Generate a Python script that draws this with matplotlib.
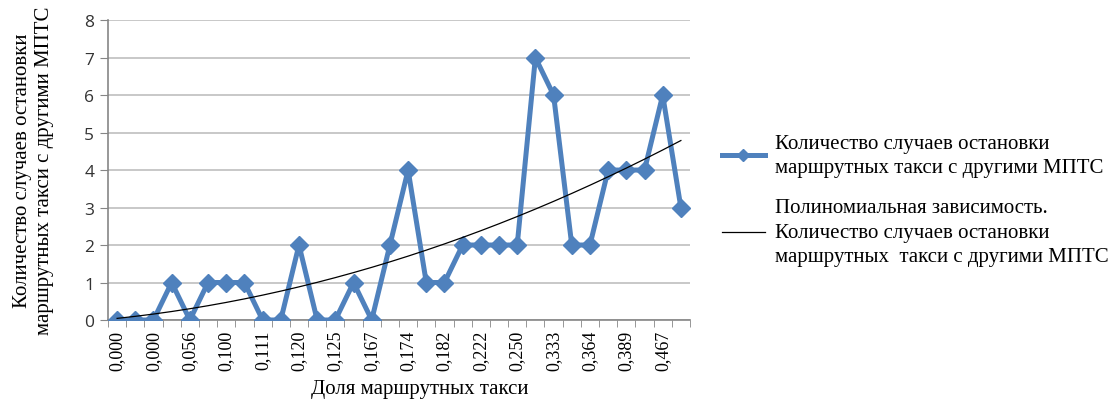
import numpy as np
import matplotlib
matplotlib.use('Agg')
import matplotlib.pyplot as plt

# values (32 categories)
counts = [0, 0, 0, 1, 0, 1, 1, 1, 0, 0, 2, 0, 0, 1, 0, 2,
          4, 1, 1, 2, 2, 2, 2, 7, 6, 2, 2, 4, 4, 4, 6, 3]
# only every other category carries a label
tick_labels = ['0,000', '0,000', '0,056', '0,100', '0,111', '0,120', '0,125', '0,167',
               '0,174', '0,182', '0,222', '0,250', '0,333', '0,364', '0,389', '0,467']

series_name = 'Количество случаев остановки\nмаршрутных такси с другими МПТС'
trend_name = ('Полиномиальная зависимость.\nКоличество случаев остановки\n'
              'маршрутных  такси с другими МПТС')

x = np.arange(len(counts))
# polynomial trend line (2nd order, as in Excel)
coef = np.polyfit(x + 1, counts, 2)
trend = np.polyval(coef, x + 1)

serif = 'Liberation Serif'
fig = plt.figure(figsize=(11.17, 4.02), dpi=100)
ax = fig.add_axes([0.0967, 0.2015, 0.521, 0.746])

ax.plot(x, counts, color='#4F81BD', linewidth=3.6, marker='D', markersize=9,
        label=series_name, zorder=3)
ax.plot(x, trend, color='black', linewidth=0.9, label=trend_name, zorder=4)

ax.set_xlim(-0.5, len(counts) - 0.5)
ax.set_ylim(0, 8)
ax.set_yticks(range(0, 9))
ax.yaxis.grid(True, color='#BFBFBF', linewidth=1.2)
ax.set_axisbelow(True)

ax.set_xticks(x[::2])
ax.set_xticklabels(tick_labels, rotation=90, family=serif, fontsize=13)
ax.set_xticks(np.arange(-0.5, len(counts)), minor=True)
ax.tick_params(axis='x', which='major', length=0, pad=7)
ax.tick_params(axis='x', which='minor', length=5, color='#868686')
ax.tick_params(axis='y', length=6, color='#868686', labelcolor='#333333',
               labelsize=12.5, pad=4)
for lbl in ax.get_yticklabels():
    lbl.set_family('Open Sans')

for side in ['top', 'right']:
    ax.spines[side].set_visible(False)
for side in ['left', 'bottom']:
    ax.spines[side].set_color('#868686')
    ax.spines[side].set_linewidth(1.2)

ax.set_xlabel('Доля маршрутных такси', family=serif, fontsize=15)
ax.xaxis.set_label_coords(0.536, -0.198)
ax.set_ylabel('Количество случаев остановки\nмаршрутных такси с другими МПТС',
              family=serif, fontsize=15, labelpad=22, linespacing=1.15)

leg = ax.legend(loc='center left', bbox_to_anchor=(1.022, 0.40), frameon=False,
                prop={'family': serif, 'size': 15}, handlelength=2.1,
                labelspacing=1.0, handletextpad=0.45, markerscale=0.7)
for t in leg.get_texts():
    t.set_linespacing(1.4)

plt.savefig('out.png', dpi=100)
